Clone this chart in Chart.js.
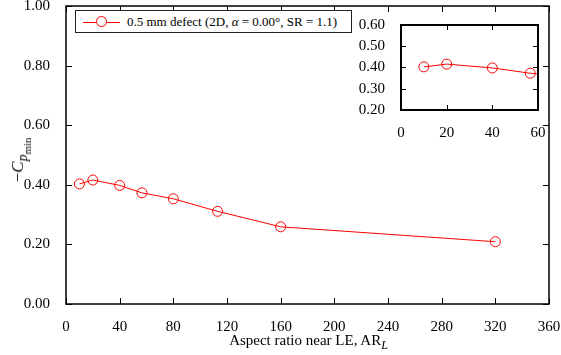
<!DOCTYPE html>
<html>
<head>
<meta charset="utf-8">
<script src="https://cdn.jsdelivr.net/npm/chart.js@4"></script>
<style>
    body { margin: 0; background: #fff; }
    #wrap { position: relative; width: 561px; height: 355px; font-family: 'Liberation Serif', serif; color: #000; }
    #mainChart { position: absolute; left: 0; top: 0; }
    #insetChart { position: absolute; left: 355px; top: 15px; }
    #legend {
        position: absolute; left: 75px; top: 10px; width: 275px; height: 21px;
        border: 1px solid #222; background: #fff; font-size: 13px; line-height: 21px; white-space: nowrap;
    }
    #legend .line { position: absolute; left: 7px; top: 11px; width: 37px; height: 1px; background: #ff0000; }
    #legend .dot { position: absolute; left: 20px; top: 5px; width: 11px; height: 11px; border: 1px solid #ff0000; border-radius: 50%; background: #fff; box-sizing: border-box; }
    #legend .txt { position: absolute; left: 51px; top: 0; }
    #xTitle { position: absolute; left: 0; width: 617px; top: 332px; text-align: center; font-size: 15px; }
    #yTitle { position: absolute; left: 18px; top: 160px; transform: translate(-50%, -50%) rotate(-90deg); font-size: 17px; white-space: nowrap; }
    sub { font-size: 80%; line-height: 0; }
</style>
</head>
<body>
<div id="wrap">
    <canvas id="mainChart" width="561" height="355"></canvas>
    <canvas id="insetChart" width="195" height="125"></canvas>
    <div id="legend">
        <span class="line"></span><span class="dot"></span>
        <span class="txt">0.5 mm defect (2D, <i>α</i> = 0.00°, SR = 1.1)</span>
    </div>
    <div id="xTitle">Aspect ratio near LE, AR<sub><i>L</i></sub></div>
    <div id="yTitle">−<i>C</i><sub><i>p</i><sub>min</sub></sub></div>
</div>
<script>
const aspectRatio = [10, 20, 40, 56.6, 80, 113, 160, 320];
const cpMin = [0.403, 0.416, 0.398, 0.373, 0.353, 0.311, 0.259, 0.209];

const mainXTicks = [0, 40, 80, 120, 160, 200, 240, 280, 320, 360];
const mainYTicks = [0, 0.2, 0.4, 0.6, 0.8, 1.0];
const insetXTicks = [0, 20, 40, 60];
const insetYTicks = [0.2, 0.3, 0.4, 0.5, 0.6];

const FONT = { family: "'Liberation Serif', serif", size: 15 };

// box around the plot area with ticks pointing inward on every side
const framePlugin = {
    id: 'frame',
    afterDraw(chart, args, opts) {
        const { ctx, chartArea: a, scales } = chart;
        const len = opts.tickLength || 5;
        ctx.save();
        ctx.strokeStyle = '#000';
        ctx.lineWidth = 1;
        scales.x.ticks.forEach(t => {
            const px = Math.round(scales.x.getPixelForValue(t.value)) + 0.5;
            ctx.beginPath();
            ctx.moveTo(px, a.bottom); ctx.lineTo(px, a.bottom - len);
            ctx.moveTo(px, a.top); ctx.lineTo(px, a.top + len);
            ctx.stroke();
        });
        scales.y.ticks.forEach(t => {
            const py = Math.round(scales.y.getPixelForValue(t.value)) + 0.5;
            ctx.beginPath();
            ctx.moveTo(a.left, py); ctx.lineTo(a.left + len, py);
            ctx.moveTo(a.right, py); ctx.lineTo(a.right - len, py);
            ctx.stroke();
        });
        ctx.lineWidth = opts.borderWidth || 1.5;
        ctx.strokeRect(a.left, a.top, a.right - a.left, a.bottom - a.top);
        ctx.restore();
    }
};

function seriesData() {
    return aspectRatio.map((x, i) => ({ x: x, y: cpMin[i] }));
}

function dataset() {
    return {
        data: seriesData(),
        borderColor: '#ff0000',
        borderWidth: 1,
        pointRadius: 5,
        pointHoverRadius: 5,
        pointBorderColor: '#ff0000',
        pointBorderWidth: 1,
        pointBackgroundColor: 'rgba(0,0,0,0)',
        tension: 0
    };
}

function axisX(min, max, ticks, height) {
    return {
        type: 'linear', min: min, max: max,
        grid: { display: false },
        border: { display: false },
        afterBuildTicks: s => { s.ticks = ticks.map(v => ({ value: v })); },
        ticks: { color: '#000', font: FONT, padding: 6, maxRotation: 0, callback: v => String(v) },
        afterFit: s => { s.height = height; s.paddingLeft = 0; s.paddingRight = 0; }
    };
}

function axisY(min, max, ticks, width) {
    return {
        type: 'linear', min: min, max: max,
        grid: { display: false },
        border: { display: false },
        afterBuildTicks: s => { s.ticks = ticks.map(v => ({ value: v })); },
        ticks: { color: '#000', font: FONT, padding: 8, callback: v => Number(v).toFixed(2) },
        afterFit: s => { s.width = width; s.paddingTop = 0; s.paddingBottom = 0; }
    };
}

document.addEventListener('DOMContentLoaded', () => {
    new Chart(document.getElementById('mainChart'), {
        type: 'line',
        data: { datasets: [dataset()] },
        options: {
            responsive: false,
            animation: false,
            layout: { padding: { top: 6, right: 12, left: 0, bottom: 0 } },
            scales: {
                x: axisX(0, 360, mainXTicks, 51),
                y: axisY(0, 1, mainYTicks, 66)
            },
            plugins: { legend: { display: false }, tooltip: { enabled: false }, frame: { tickLength: 6, borderWidth: 1.5 } }
        },
        plugins: [framePlugin]
    });

    new Chart(document.getElementById('insetChart'), {
        type: 'line',
        data: { datasets: [dataset()] },
        options: {
            responsive: false,
            animation: false,
            layout: { padding: { top: 10, right: 12, left: 0, bottom: 0 } },
            scales: {
                x: axisX(0, 60, insetXTicks, 30),
                y: axisY(0.2, 0.6, insetYTicks, 46)
            },
            plugins: { legend: { display: false }, tooltip: { enabled: false }, frame: { tickLength: 5, borderWidth: 2 } }
        },
        plugins: [framePlugin]
    });
});
</script>
</body>
</html>
